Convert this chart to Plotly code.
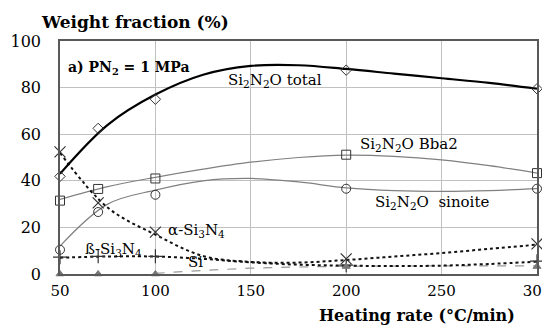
import plotly.graph_objects as go

# ---- data ----
rates = [50, 70, 100, 200, 300]
total = [41.9, 62.5, 75.0, 87.5, 79.5]
bba2 = [31.5, 36.5, 41.0, 51.2, 43.3]
sinoite = [10.4, 26.6, 34.0, 36.6, 36.6]
alpha = [52.4, 30.5, 18.0, 6.5, 12.9]
beta = [7.2, 7.6, 7.6, 3.8, 5.5]
si = [0.0, 0.0, 0.0, 3.2, 3.2]

# trend curves
fit_x = [50, 75, 100, 125, 150, 175, 200, 225, 250, 275, 300]
total_fit = [43.0, 64.0, 77.0, 85.5, 89.3, 89.6, 88.0, 86.0, 84.0, 82.0, 79.5]
bba2_fit = [32.0, 37.5, 41.5, 45.0, 48.0, 50.0, 51.0, 50.5, 49.0, 46.5, 43.3]
sinoite_fit = [12.0, 30.0, 36.0, 40.0, 41.0, 39.5, 37.0, 35.8, 35.5, 35.8, 36.6]
alpha_fit = [52.0, 28.5, 16.9, 7.7, 5.2, 4.9, 6.0, 7.5, 9.0, 10.8, 12.6]
beta_fit = [7.0, 7.5, 7.5, 6.5, 5.0, 4.0, 3.6, 3.4, 3.6, 4.3, 5.3]
si_fit_x = [100, 125, 150, 175, 200, 225, 250, 275, 300]
si_fit = [0.3, 1.5, 2.5, 3.0, 3.3, 3.4, 3.5, 3.5, 3.5]

x_ticks = [50, 100, 150, 200, 250, 300]
y_ticks = [0, 20, 40, 60, 80, 100]

FONT = "DejaVu Serif"
fig = go.Figure()

def curve(x, y, color, width, dash):
    fig.add_trace(go.Scatter(x=x, y=y, mode="lines", line=dict(color=color, width=width, dash=dash, shape="spline", smoothing=1.0),
                             hoverinfo="skip", showlegend=False))

def pts(x, y, symbol, color, size=8, width=1):
    fig.add_trace(go.Scatter(x=x, y=y, mode="markers",
                             marker=dict(symbol=symbol, size=size, color=color, line=dict(color=color, width=width)),
                             showlegend=False, cliponaxis=False))

curve(fit_x, bba2_fit, "#808080", 1.2, "solid")
curve(fit_x, sinoite_fit, "#808080", 1.2, "solid")
curve(si_fit_x, si_fit, "#999999", 1.2, "dash")
curve(fit_x, beta_fit, "#111111", 2, "dot")
curve(fit_x, alpha_fit, "#111111", 2, "dot")
curve(fit_x, total_fit, "#000000", 2.2, "solid")

pts(rates, total, "diamond-open", "#333333", 8)
pts(rates, bba2, "square-open", "#333333", 9)
pts(rates, sinoite, "circle-open", "#333333", 9)
pts(rates, alpha, "x-thin-open", "#333333", 11, 1.2)
pts(rates, beta, "cross-thin-open", "#333333", 10, 1.2)
pts(rates, si, "triangle-up", "#777777", 7)

labels = [
    (267, 72, "Si<sub>2</sub>N<sub>2</sub>O total"),
    (401, 136, "Si<sub>2</sub>N<sub>2</sub>O Bba2"),
    (424, 194, "Si<sub>2</sub>N<sub>2</sub>O  sinoite"),
    (188, 222, "α-Si<sub>3</sub>N<sub>4</sub>"),
    (105, 241, "ß-Si<sub>3</sub>N<sub>4</sub>"),
    (187, 254, "Si"),
]
# convert pixel positions to data coords
def px2x(px):
    return 50 + (px - 52) * 250 / 477
def py2y(py):
    return (266 - py) * 100 / 233

for px, py, t in labels:
    fig.add_annotation(x=px2x(px), y=py2y(py), text=t, showarrow=False,
                       font=dict(family=FONT, size=15, color="#000000"))

fig.add_annotation(x=0.012, y=0.93, xref="paper", yref="paper", xanchor="left",
                   text="<b>a) PN<sub>2</sub> = 1 MPa</b>", showarrow=False,
                   font=dict(family=FONT, size=14, color="#000000"))
fig.add_annotation(x=-0.045, y=1.03, xref="paper", yref="paper", xanchor="left", yanchor="bottom",
                   text="<b>Weight fraction (%)</b>", showarrow=False,
                   font=dict(family=FONT, size=17, color="#000000"))
fig.add_annotation(x=0.748, y=-0.18, xref="paper", yref="paper", xanchor="center", yanchor="middle",
                   text="<b>Heating rate (°C/min)</b>", showarrow=False,
                   font=dict(family=FONT, size=16, color="#000000"))

fig.update_layout(
    width=550, height=331,
    margin=dict(l=52, r=21, t=33, b=65),
    paper_bgcolor="white", plot_bgcolor="white",
    font=dict(family=FONT, size=16, color="#000000"),
    xaxis=dict(range=[50, 300], tickvals=x_ticks, showgrid=True, gridcolor="#c0c0c0", gridwidth=1,
               showline=True, linecolor="#595959", linewidth=1.5, mirror=True, zeroline=False,
               ticks="", tickfont=dict(family=FONT, size=15), ticklabelstandoff=2, automargin=False),
    yaxis=dict(range=[0, 100], tickvals=y_ticks, showgrid=True, gridcolor="#c0c0c0", gridwidth=1,
               showline=True, linecolor="#595959", linewidth=1.5, mirror=True, zeroline=False,
               ticks="", tickfont=dict(family=FONT, size=16), ticklabelstandoff=14, automargin=False),
)

fig.write_html("out.html")
